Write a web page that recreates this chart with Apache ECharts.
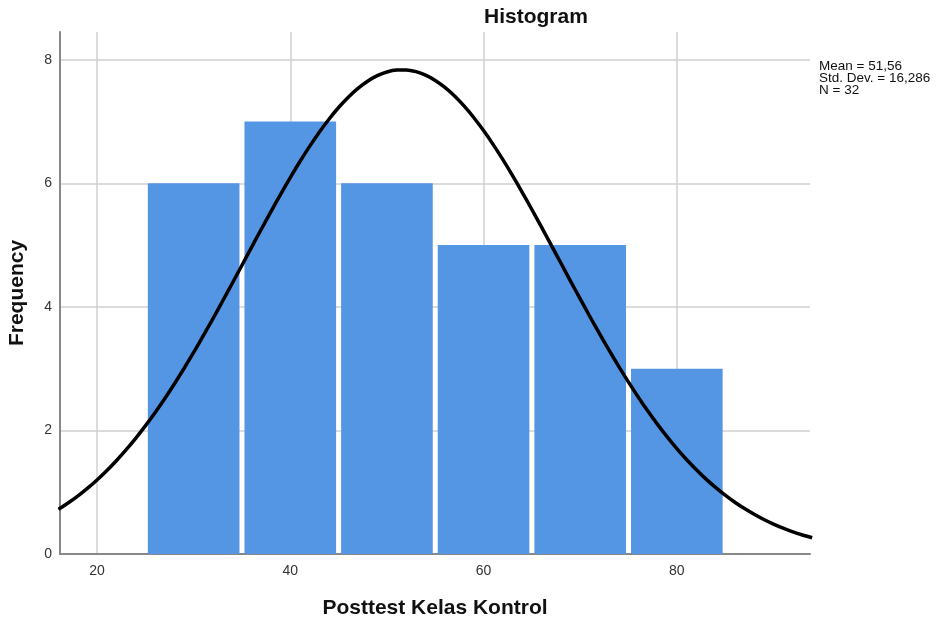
<!DOCTYPE html>
<html>
<head>
<meta charset="utf-8">
<script src="https://cdn.jsdelivr.net/npm/echarts@6/dist/echarts.min.js"></script>
<style>html,body{margin:0;padding:0;background:#fff}#c{width:936px;height:623px}</style>
</head>
<body>
<div id="c"></div>
<script>
// Histogram bins
var binStart = [25, 35, 45, 55, 65, 75];
var binEnd   = [35, 45, 55, 65, 75, 85];
var frequency = [6, 7, 6, 5, 5, 3];
// Normal curve points
var curveX = [16,17,18,19,20,21,22,23,24,25,26,27,28,29,30,31,32,33,34,35,36,37,38,39,40,41,42,43,44,45,46,47,48,49,50,51,52,53,54,55,56,57,58,59,60,61,62,63,64,65,66,67,68,69,70,71,72,73,74,75,76,77,78,79,80,81,82,83,84,85,86,87,88,89,90,91,92,93,94];
var curveY = [0.723,0.825,0.938,1.063,1.199,1.348,1.510,1.685,1.872,2.074,2.288,2.514,2.753,3.003,3.264,3.533,3.811,4.095,4.383,4.675,4.967,5.257,5.543,5.823,6.093,6.353,6.598,6.828,7.038,7.228,7.395,7.538,7.654,7.743,7.803,7.834,7.836,7.808,7.751,7.666,7.553,7.414,7.249,7.062,6.854,6.627,6.383,6.125,5.855,5.577,5.291,5.001,4.710,4.418,4.129,3.845,3.566,3.296,3.034,2.783,2.543,2.314,2.099,1.896,1.706,1.530,1.367,1.216,1.078,0.952,0.838,0.735,0.642,0.558,0.484,0.418,0.359,0.308,0.263];
var xTicks = [20, 40, 60, 80];
var yTicks = [0, 2, 4, 6, 8];
var statsLines = ['Mean = 51,56', 'Std. Dev. = 16,286', 'N = 32'];

var barData = binStart.map(function (s, i) { return [s, binEnd[i], frequency[i]]; });
var curveData = curveX.map(function (x, i) { return [x, curveY[i]]; });

var chart = echarts.init(document.getElementById('c'));
var font = 'Liberation Sans, Arial, sans-serif';
chart.setOption({
  animation: false,
  backgroundColor: '#ffffff',
  title: [{
    text: 'Histogram', left: 479, top: 2,
    textStyle: { fontFamily: font, fontSize: 21, fontWeight: 'bold', color: '#111' }
  }, {
    text: statsLines.join('\n'), left: 814, top: 55,
    textStyle: { fontFamily: font, fontSize: 13.5, fontWeight: 'normal', color: '#111', lineHeight: 12 }
  }],
  grid: { left: 60, right: 126, top: 32, bottom: 69, outerBoundsMode: 'none', containLabel: false },
  xAxis: {
    type: 'value', min: 16.17, max: 93.78,
    name: 'Posttest Kelas Kontrol', nameLocation: 'middle', nameGap: 44,
    nameTextStyle: { fontFamily: font, fontSize: 21, fontWeight: 'bold', color: '#111' },
    axisLine: { show: true, lineStyle: { color: '#888', width: 2 } },
    axisTick: { show: false, customValues: xTicks },
    axisLabel: { customValues: xTicks, fontFamily: font, fontSize: 14, color: '#333', margin: 10 },
    splitLine: { show: true, lineStyle: { color: '#d0d0d0', width: 1.5 } }
  },
  yAxis: {
    type: 'value', min: 0, max: 8.45,
    name: 'Frequency', nameLocation: 'middle', nameGap: 32, nameRotate: 90,
    nameTextStyle: { fontFamily: font, fontSize: 21, fontWeight: 'bold', color: '#111' },
    axisLine: { show: true, lineStyle: { color: '#888', width: 2 } },
    axisTick: { show: false, customValues: yTicks },
    axisLabel: { customValues: yTicks, fontFamily: font, fontSize: 14, color: '#333', margin: 8 },
    splitLine: { show: true, lineStyle: { color: '#d0d0d0', width: 1.5 } }
  },
  series: [{
    type: 'custom',
    data: barData,
    encode: { x: [0, 1], y: 2 },
    renderItem: function (params, api) {
      var p0 = api.coord([api.value(0), 0]);
      var p1 = api.coord([api.value(1), api.value(2)]);
      var inset = 2.5;
      return {
        type: 'rect',
        shape: { x: p0[0] + inset, y: p1[1], width: p1[0] - p0[0] - 2 * inset, height: p0[1] - p1[1] },
        style: { fill: '#5596e4' }
      };
    },
    z: 2
  }, {
    type: 'line',
    data: curveData,
    smooth: 0.25,
    showSymbol: false,
    lineStyle: { color: '#000', width: 3.5, join: 'round' },
    z: 3
  }]
});
</script>
</body>
</html>
